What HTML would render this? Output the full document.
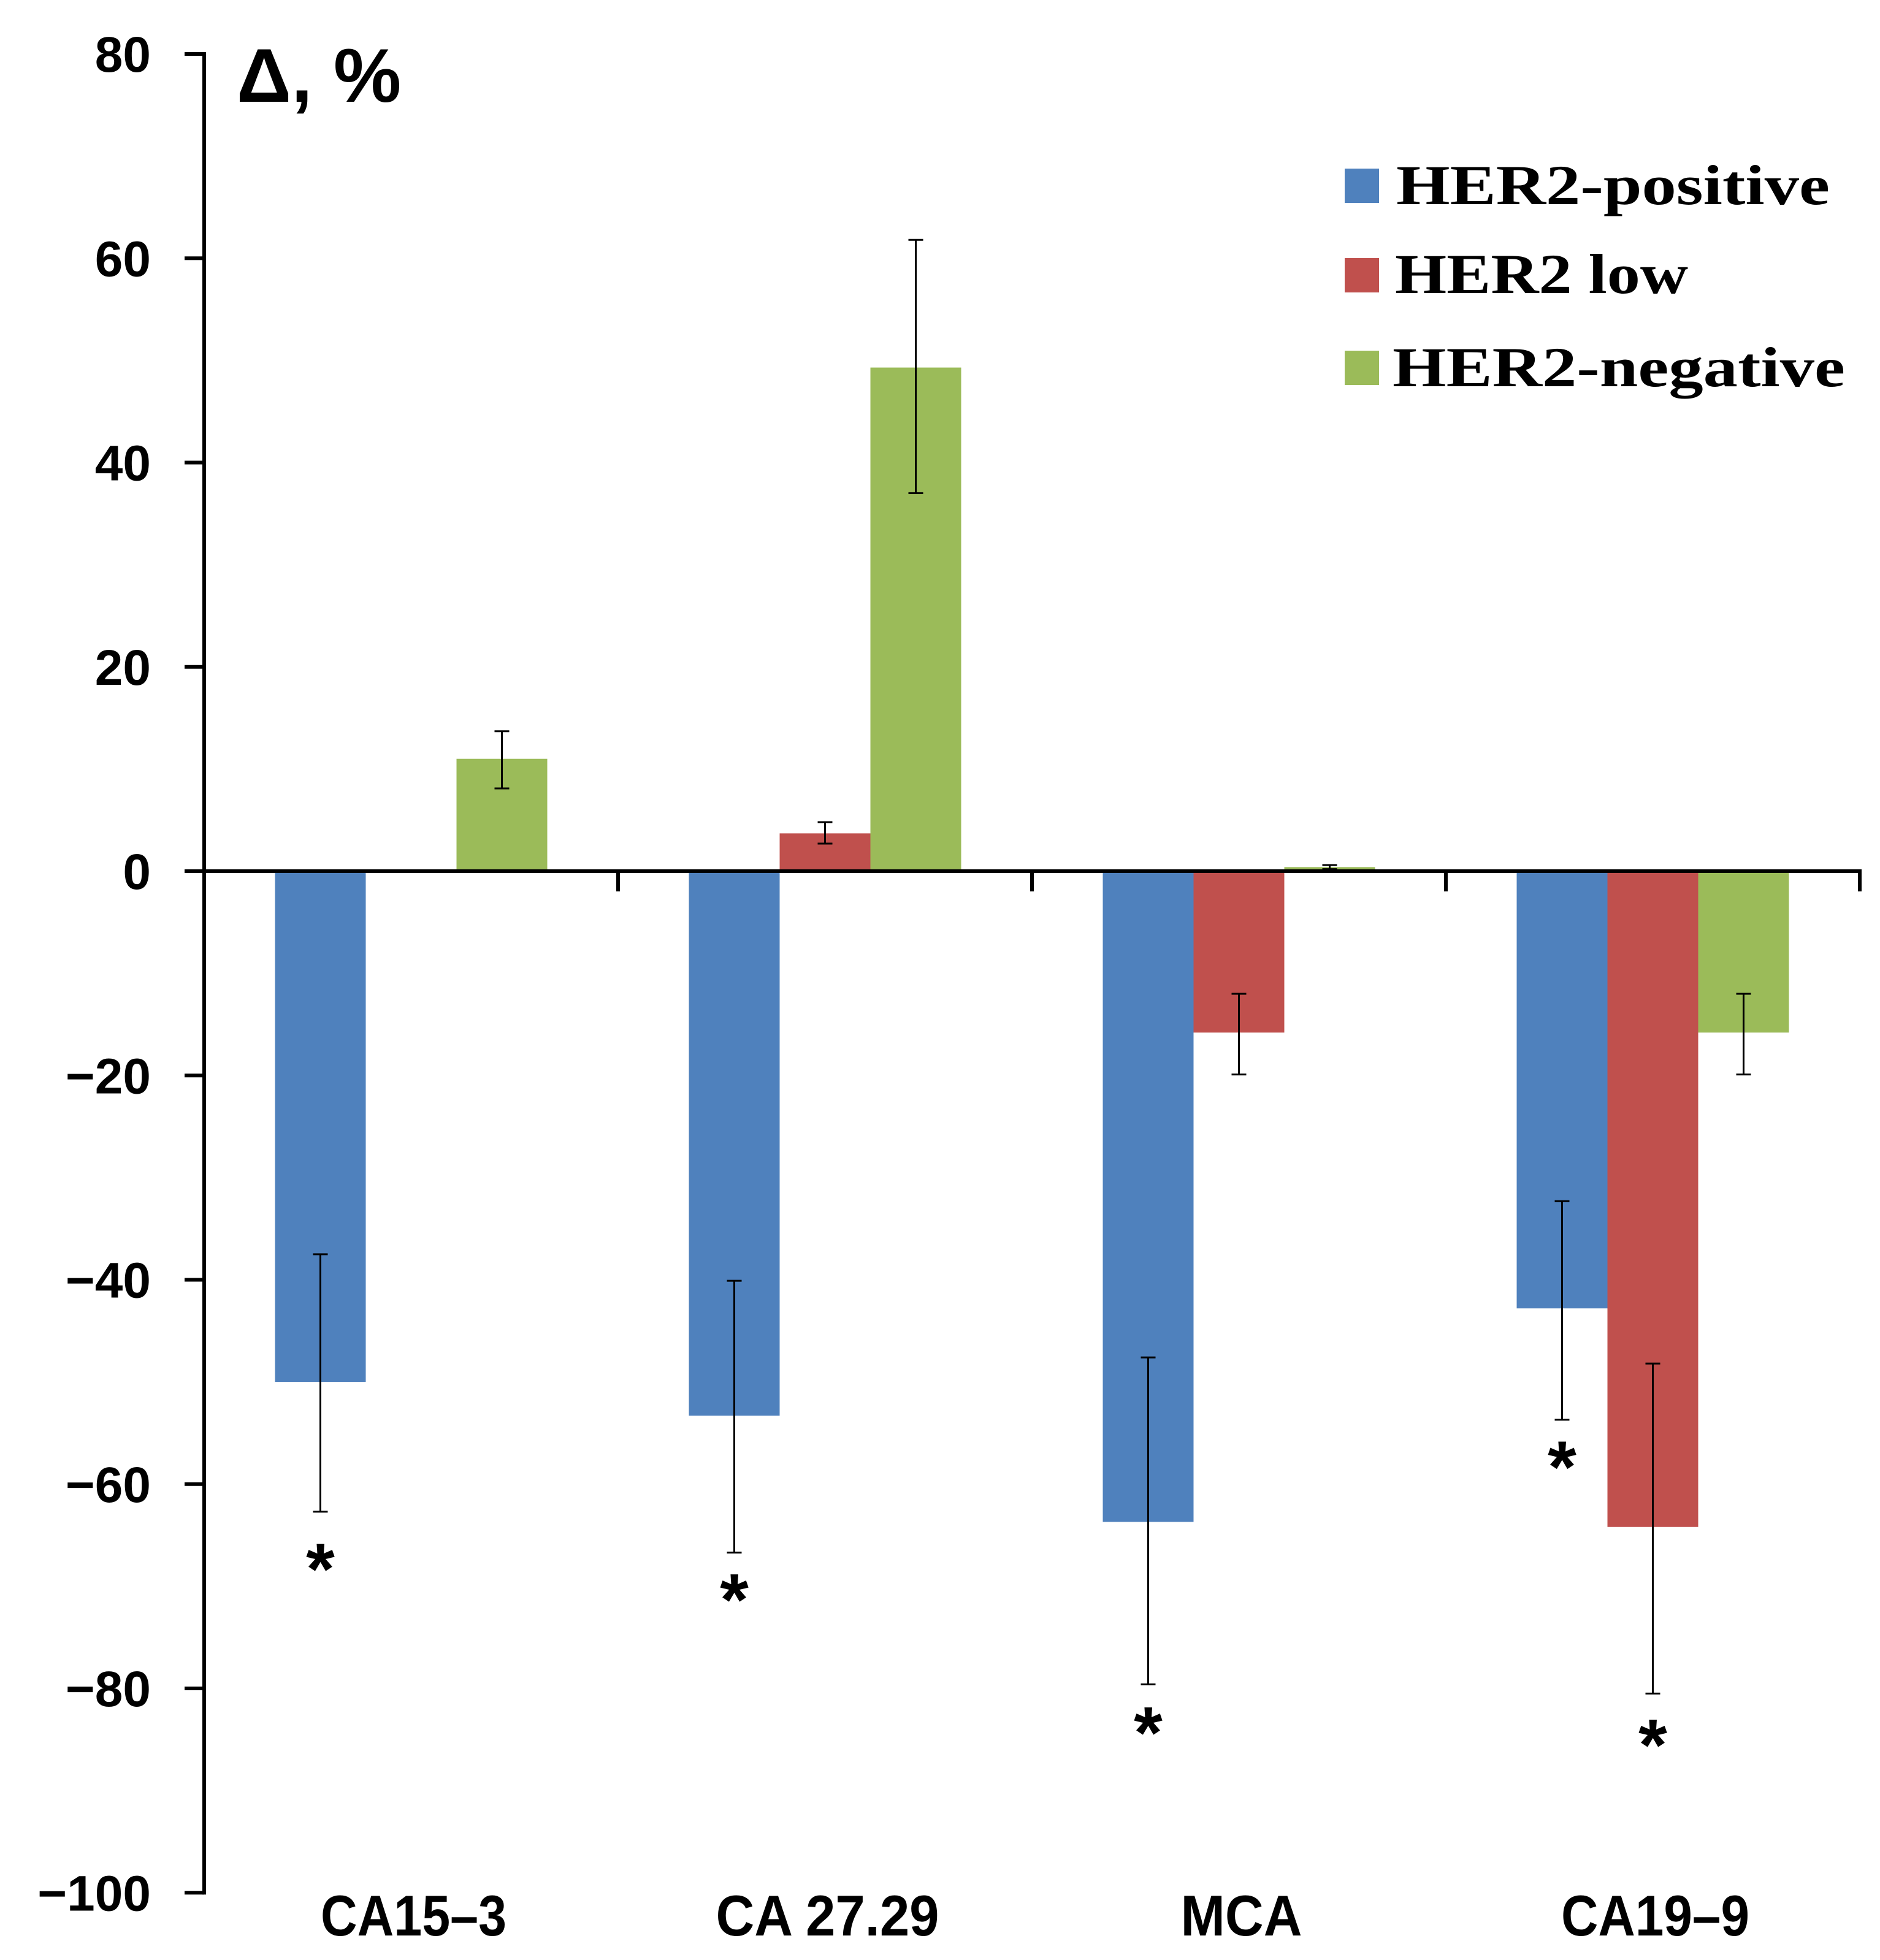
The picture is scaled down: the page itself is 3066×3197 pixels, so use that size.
<!DOCTYPE html>
<html><head><meta charset="utf-8"><style>
html,body{margin:0;padding:0;background:#fff;}
svg{display:block;}
</style></head><body>
<svg id="chart" width="3066" height="3197" viewBox="0 0 3066 3197" xmlns="http://www.w3.org/2000/svg">
<g id="bars"></g>
<g id="axes"></g>
<text x="386" y="166" font-family="Liberation Sans, DejaVu Sans, sans-serif" font-weight="bold" font-size="124">Δ, %</text>
<g font-family="Liberation Serif, serif" font-weight="bold" font-size="92">
  <g>
    <rect x="2193" y="275" width="56" height="56" fill="#4F81BD"/>
    <text x="2277" y="333" textLength="707" lengthAdjust="spacingAndGlyphs">HER2-positive</text>
  </g>
  <g>
    <rect x="2193" y="421" width="56" height="56" fill="#C0504D"/>
    <text x="2275" y="478" textLength="478" lengthAdjust="spacingAndGlyphs">HER2 low</text>
  </g>
  <g>
    <rect x="2193" y="572" width="56" height="56" fill="#9BBB59"/>
    <text x="2271" y="630" textLength="738" lengthAdjust="spacingAndGlyphs">HER2-negative</text>
  </g>
</g>
</svg>
<script>
const categories = ["CA15\u20133", "CA 27.29", "MCA", "CA19\u20139"];
const seriesNames = ["HER2-positive", "HER2 low", "HER2-negative"];
const positive = [-50, -53.3, -63.7, -42.8];
const low = [0, 3.7, -15.8, -64.2];
const negative = [11, 49.3, 0.4, -15.8];
const positiveErrHigh = [-37.5, -40.1, -47.6, -32.3];
const positiveErrLow = [-62.7, -66.7, -79.6, -53.7];
const lowErrHigh = [null, 4.8, -12, -48.2];
const lowErrLow = [null, 2.7, -19.9, -80.5];
const negativeErrHigh = [13.7, 61.8, 0.6, -12];
const negativeErrLow = [8.1, 37, 0.2, -19.9];
const starPositive = [-67.5, -70.5, -83.5, -57.5];
const starLow = [null, null, null, -84.7];
const yTicks = [80, 60, 40, 20, 0, -20, -40, -60, -80, -100];
const yTickLabels = ["80", "60", "40", "20", "0", "\u221220", "\u221240", "\u221260", "\u221280", "\u2212100"];

const NS = "http://www.w3.org/2000/svg";
const X0 = 333, X1 = 3033, Y80 = 88, Y0 = 1421;
const colors = ["#4F81BD", "#C0504D", "#9BBB59"];
function yScale(v){ return Y0 - (v) * (Y0 - Y80) / 80; }
const catW = (X1 - X0) / categories.length;
const barW = 148, groupPad = (catW - 3 * barW) / 2;
function xBar(ci, si){ return X0 + ci * catW + groupPad + si * barW; }
function mk(tag, attrs, parent){ const e = document.createElementNS(NS, tag); for (const k in attrs) e.setAttribute(k, attrs[k]); parent.appendChild(e); return e; }

const bars = document.getElementById("bars");
const axes = document.getElementById("axes");
const series = [positive, low, negative];
const errH = [positiveErrHigh, lowErrHigh, negativeErrHigh];
const errL = [positiveErrLow, lowErrLow, negativeErrLow];

series.forEach((vals, si) => {
  vals.forEach((v, ci) => {
    if (v === 0) return;
    const y = Math.min(yScale(v), Y0), h = Math.abs(yScale(v) - Y0);
    const r = mk("rect", {x: xBar(ci, si), y: y, width: barW, height: h, fill: colors[si]}, bars);
    
    
  });
});
series.forEach((vals, si) => {
  vals.forEach((v, ci) => {
    const hi = errH[si][ci], lo = errL[si][ci];
    if (hi === null) return;
    const cx = xBar(ci, si) + barW / 2;
    const g = mk("g", {stroke: "#000", "stroke-width": 3}, bars);
    
    
    mk("line", {x1: cx, x2: cx, y1: yScale(hi), y2: yScale(lo)}, g);
    mk("line", {x1: cx - 12, x2: cx + 12, y1: yScale(hi), y2: yScale(hi)}, g);
    mk("line", {x1: cx - 12, x2: cx + 12, y1: yScale(lo), y2: yScale(lo)}, g);
  });
});
[[starPositive, 0], [starLow, 1]].forEach(([arr, si]) => {
  arr.forEach((v, ci) => {
    if (v === null) return;
    const t = mk("text", {x: xBar(ci, si) + barW / 2, y: yScale(v) + 55, "text-anchor": "middle", "font-family": "Liberation Sans, sans-serif", "font-weight": "bold", "font-size": 120}, bars);
    t.textContent = "*";
    
    
  });
});

const ya = mk("line", {x1: X0, x2: X0, y1: Y80 - 3, y2: yScale(-100) + 3, stroke: "#000", "stroke-width": 6}, axes);


const xa = mk("line", {x1: X0, x2: X1 + 3, y1: Y0, y2: Y0, stroke: "#000", "stroke-width": 6}, axes);


yTicks.forEach((v, i) => {
  const y = yScale(v);
  mk("line", {x1: X0 - 32, x2: X0, y1: y, y2: y, stroke: "#000", "stroke-width": 6}, axes);
  const t = mk("text", {x: 246, y: y + 29, "text-anchor": "end", "font-family": "Liberation Sans, sans-serif", "font-weight": "bold", "font-size": 82}, axes);
  t.textContent = yTickLabels[i];
  
  
});
for (let i = 1; i <= categories.length; i++) {
  const x = X0 + i * catW;
  mk("line", {x1: x, x2: x, y1: Y0, y2: Y0 + 33, stroke: "#000", "stroke-width": 6}, axes);
}
const catWidths = [303, 364, 198, 307];
categories.forEach((c, ci) => {
  const t = mk("text", {x: X0 + (ci + 0.5) * catW + 4, y: 3157, "text-anchor": "middle", "font-family": "Liberation Sans, sans-serif", "font-weight": "bold", "font-size": 94, textLength: catWidths[ci], lengthAdjust: "spacingAndGlyphs"}, axes);
  t.textContent = c;
  
  
});
</script>
</body></html>
